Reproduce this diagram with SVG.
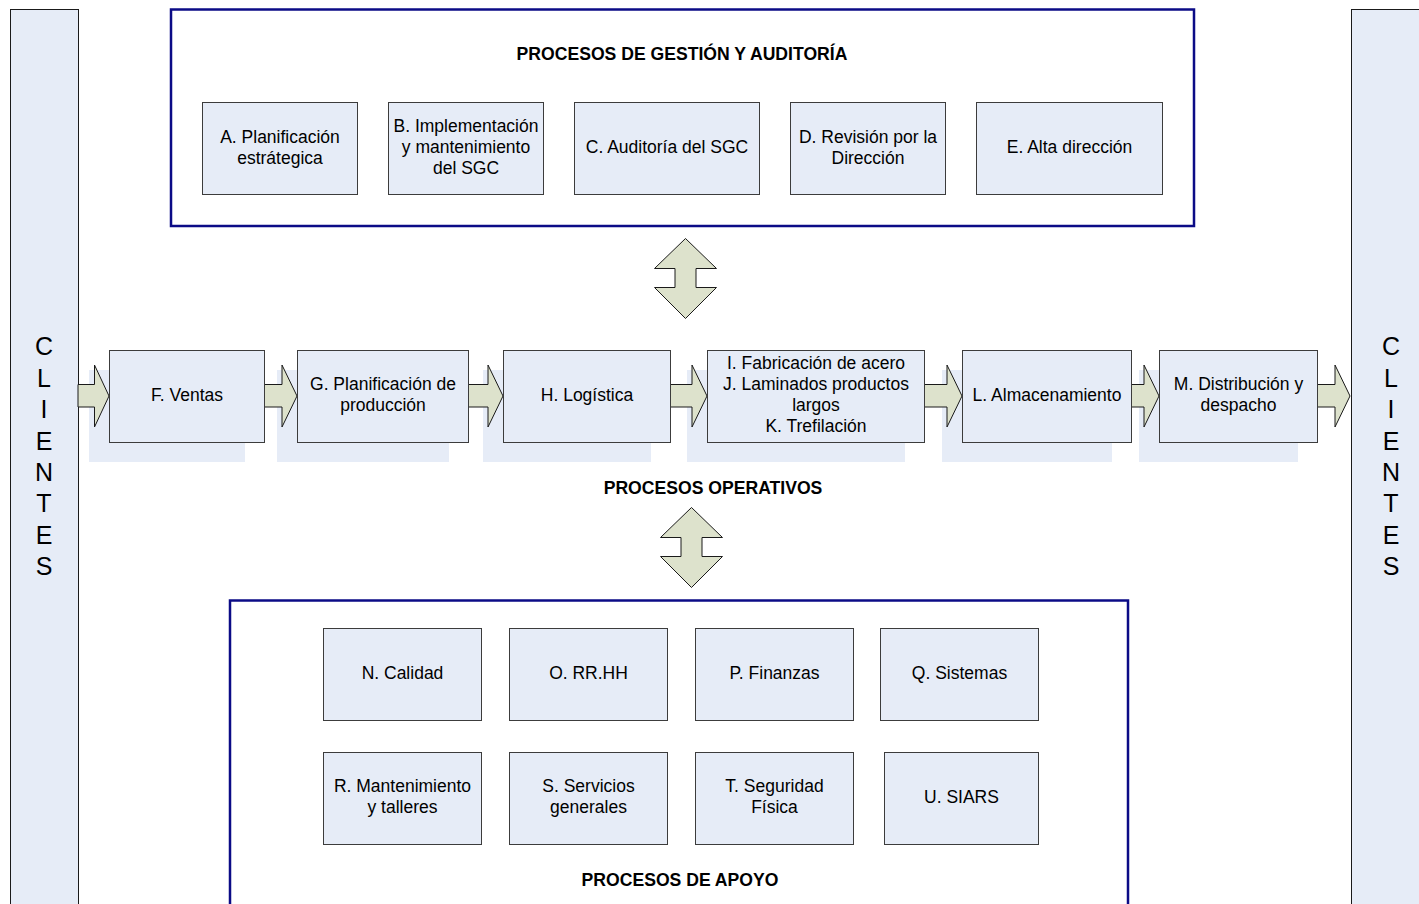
<svg xmlns="http://www.w3.org/2000/svg" width="1419" height="904" viewBox="0 0 1419 904">
  <style>
    .bar { fill: #e6ecf7; stroke: #1a1a1a; stroke-width: 1; }
    .frame { fill: #ffffff; stroke: #0b0b86; stroke-width: 2.5; }
    .box { fill: #e6ecf7; stroke: #3c3c3c; stroke-width: 1; }
    .shadow { fill: #e6ecf7; stroke: none; }
    .arrow { fill: #dde2cc; stroke: #1a1a1a; stroke-width: 1; stroke-linejoin: miter; }
    text { font-family: "Liberation Sans", Arial, sans-serif; fill: #000; }
    .lbl { font-size: 17.5px; text-anchor: middle; }
    .ttl { font-size: 17.6px; font-weight: bold; text-anchor: middle; }
    .cli { font-size: 25px; text-anchor: middle; }
  </style>

  <!-- customer side bars -->
  <g id="clientes-izq">
    <rect class="bar" x="10.5" y="9.5" width="68" height="910"/>
    <text class="cli" x="44"><tspan x="44" y="355">C</tspan><tspan x="44" y="387">L</tspan><tspan x="44" y="418">I</tspan><tspan x="44" y="450">E</tspan><tspan x="44" y="481">N</tspan><tspan x="44" y="512">T</tspan><tspan x="44" y="544">E</tspan><tspan x="44" y="575">S</tspan></text>
  </g>
  <g id="clientes-der">
    <rect class="bar" x="1351.5" y="9.5" width="80" height="910"/>
    <text class="cli" x="1391"><tspan x="1391" y="355">C</tspan><tspan x="1391" y="387">L</tspan><tspan x="1391" y="418">I</tspan><tspan x="1391" y="450">E</tspan><tspan x="1391" y="481">N</tspan><tspan x="1391" y="512">T</tspan><tspan x="1391" y="544">E</tspan><tspan x="1391" y="575">S</tspan></text>
  </g>

  <!-- management processes -->
  <g id="gestion">
    <rect class="frame" x="171" y="9.5" width="1023" height="216.5"/>
    <text class="ttl" x="682" y="60">PROCESOS DE GESTIÓN Y AUDITORÍA</text>
  </g>
  <g id="A">
    <rect class="box" x="202.5" y="102.5" width="155" height="92"/>
    <text class="lbl"><tspan x="280" y="143">A. Planificación</tspan><tspan x="280" y="164">estrátegica</tspan></text>
  </g>
  <g id="B">
    <rect class="box" x="388.5" y="102.5" width="155" height="92"/>
    <text class="lbl"><tspan x="466" y="132">B. Implementación</tspan><tspan x="466" y="153">y mantenimiento</tspan><tspan x="466" y="174">del SGC</tspan></text>
  </g>
  <g id="C">
    <rect class="box" x="574.5" y="102.5" width="185" height="92"/>
    <text class="lbl" x="667" y="153">C. Auditoría del SGC</text>
  </g>
  <g id="D">
    <rect class="box" x="790.5" y="102.5" width="155" height="92"/>
    <text class="lbl"><tspan x="868" y="143">D. Revisión por la</tspan><tspan x="868" y="164">Dirección</tspan></text>
  </g>
  <g id="E">
    <rect class="box" x="976.5" y="102.5" width="186" height="92"/>
    <text class="lbl" x="1069.5" y="153">E. Alta dirección</text>
  </g>

  <!-- operational processes: shadows first -->
  <g id="sombras">
    <rect class="shadow" x="89" y="370" width="156" height="92"/>
    <rect class="shadow" x="277" y="370" width="172" height="92"/>
    <rect class="shadow" x="483" y="370" width="168" height="92"/>
    <rect class="shadow" x="687" y="370" width="218" height="92"/>
    <rect class="shadow" x="942" y="370" width="170" height="92"/>
    <rect class="shadow" x="1139" y="370" width="159" height="92"/>
  </g>

  <g id="conectores">
    <!-- flow arrows along the operational chain -->
    <path class="arrow" d="M78,384.5 H94.5 V365 L109,396 L94.5,427 V407 H78 Z"/>
    <path class="arrow" d="M264,384.5 H282 V365 L297,396 L282,427 V407 H264 Z"/>
    <path class="arrow" d="M468,384.5 H488 V365 L503,396 L488,427 V407 H468 Z"/>
    <path class="arrow" d="M670,384.5 H692 V365 L707,396 L692,427 V407 H670 Z"/>
    <path class="arrow" d="M924,384.5 H947 V365 L962,396 L947,427 V407 H924 Z"/>
    <path class="arrow" d="M1131,384.5 H1144 V365 L1159,396 L1144,427 V407 H1131 Z"/>
    <path class="arrow" d="M1317,384.5 H1335 V365 L1350,396 L1335,427 V407 H1317 Z"/>
    <!-- two-way links between the process levels -->
    <path class="arrow" d="M685.5,238.5 L716.5,268.5 H696 V287.5 H716.5 L685.5,318.5 L654.5,287.5 H675 V268.5 H654.5 Z"/>
    <path class="arrow" d="M691.5,507.5 L722.5,537.5 H702 V556.5 H722.5 L691.5,587.5 L660.5,556.5 H681 V537.5 H660.5 Z"/>
  </g>

  <g id="F">
    <rect class="box" x="109.5" y="350.5" width="155" height="92"/>
    <text class="lbl" x="187" y="401">F. Ventas</text>
  </g>
  <g id="G">
    <rect class="box" x="297.5" y="350.5" width="171" height="92"/>
    <text class="lbl"><tspan x="383" y="390">G. Planificación de</tspan><tspan x="383" y="411">producción</tspan></text>
  </g>
  <g id="H">
    <rect class="box" x="503.5" y="350.5" width="167" height="92"/>
    <text class="lbl" x="587" y="401">H. Logística</text>
  </g>
  <g id="IJK">
    <rect class="box" x="707.5" y="350.5" width="217" height="92"/>
    <text class="lbl"><tspan x="816" y="369">I. Fabricación de acero</tspan><tspan x="816" y="390">J. Laminados productos</tspan><tspan x="816" y="411">largos</tspan><tspan x="816" y="432">K. Trefilación</tspan></text>
  </g>
  <g id="L">
    <rect class="box" x="962.5" y="350.5" width="169" height="92"/>
    <text class="lbl" x="1047" y="401">L. Almacenamiento</text>
  </g>
  <g id="M">
    <rect class="box" x="1159.5" y="350.5" width="158" height="92"/>
    <text class="lbl"><tspan x="1238.5" y="390">M. Distribución y</tspan><tspan x="1238.5" y="411">despacho</tspan></text>
  </g>
  <g id="operativos">
    <text class="ttl" x="713" y="494">PROCESOS OPERATIVOS</text>
  </g>

  <!-- support processes -->
  <g id="apoyo">
    <rect class="frame" x="230" y="600.5" width="898" height="320"/>
    <text class="ttl" x="680" y="886">PROCESOS DE APOYO</text>
  </g>
  <g id="N">
    <rect class="box" x="323.5" y="628.5" width="158" height="92"/>
    <text class="lbl" x="402.5" y="679">N. Calidad</text>
  </g>
  <g id="O">
    <rect class="box" x="509.5" y="628.5" width="158" height="92"/>
    <text class="lbl" x="588.5" y="679">O. RR.HH</text>
  </g>
  <g id="P">
    <rect class="box" x="695.5" y="628.5" width="158" height="92"/>
    <text class="lbl" x="774.5" y="679">P. Finanzas</text>
  </g>
  <g id="Q">
    <rect class="box" x="880.5" y="628.5" width="158" height="92"/>
    <text class="lbl" x="959.5" y="679">Q. Sistemas</text>
  </g>
  <g id="R">
    <rect class="box" x="323.5" y="752.5" width="158" height="92"/>
    <text class="lbl"><tspan x="402.5" y="792">R. Mantenimiento</tspan><tspan x="402.5" y="813">y talleres</tspan></text>
  </g>
  <g id="S">
    <rect class="box" x="509.5" y="752.5" width="158" height="92"/>
    <text class="lbl"><tspan x="588.5" y="792">S. Servicios</tspan><tspan x="588.5" y="813">generales</tspan></text>
  </g>
  <g id="T">
    <rect class="box" x="695.5" y="752.5" width="158" height="92"/>
    <text class="lbl"><tspan x="774.5" y="792">T. Seguridad</tspan><tspan x="774.5" y="813">Física</tspan></text>
  </g>
  <g id="U">
    <rect class="box" x="884.5" y="752.5" width="154" height="92"/>
    <text class="lbl" x="961.5" y="803">U. SIARS</text>
  </g>
</svg>
